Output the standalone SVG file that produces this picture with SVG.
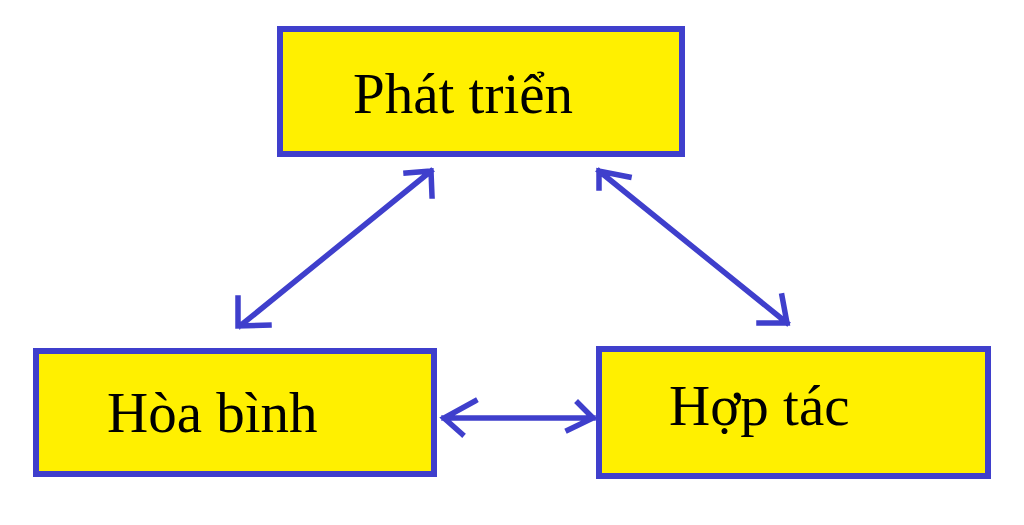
<svg xmlns="http://www.w3.org/2000/svg" width="1024" height="525" viewBox="0 0 1024 525">
<defs>
<style>
.box{fill:#fff000;stroke:#3f3fcc;stroke-width:6}
.lbl{font-family:"Liberation Serif","Times New Roman",serif;font-size:57px;fill:#000}
.ln{fill:none;stroke:#3f3fcc;stroke-width:5.5;stroke-linecap:square;stroke-linejoin:miter}
</style>
</defs>
<rect width="1024" height="525" fill="#fff"/>
<g id="connectors">
<path class="ln" d="M240,326 L431,171 M406,173 L431,171 L432,196 M238,298 L238,326 L269,325"/>
<path class="ln" d="M599,171 L787,323 M629,177 L599,171 L599,188 M759,323 L787,323 L782,296"/>
<path class="ln" d="M444,418 L593,418 M475,401 L444,418 L462,434 M578,403 L593,418 L568,430"/>
</g>
<g id="node-phattrien">
<rect class="box" x="280" y="29" width="402" height="125"/>
<text class="lbl" x="353" y="113">Phát triển</text>
</g>
<g id="node-hoabinh">
<rect class="box" x="36" y="351" width="398" height="123"/>
<text class="lbl" x="107" y="432">Hòa bình</text>
</g>
<g id="node-hoptac">
<rect class="box" x="599" y="349" width="389" height="127"/>
<text class="lbl" x="669" y="425">Hợp tác</text>
</g>
</svg>
